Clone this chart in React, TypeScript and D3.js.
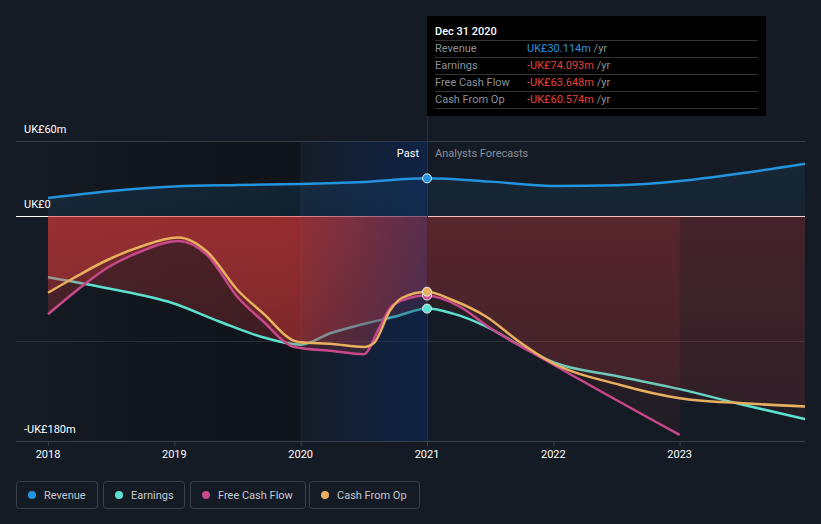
import React, { useEffect } from "react";
import * as d3 from "d3";

// ---------- data (values in UK£ millions, time in decimal years) ----------
const revenueT = [2018.0, 2018.5, 2019.0, 2019.5, 2020.0, 2020.5, 2021.0, 2021.5, 2022.0, 2022.5, 2023.0, 2023.5, 2024.0];
const revenueV = [14.4, 20, 23.6, 24.8, 25.6, 27.2, 30.114, 27.5, 24, 24.6, 28, 34.4, 42];

const earningsT = [2018.0, 2018.47, 2018.99, 2019.36, 2019.7, 2020.0, 2020.24, 2020.5, 2020.75, 2021.0, 2021.2, 2021.47, 2021.73, 2022.0, 2022.5, 2023.0, 2023.5, 2024.0];
const earningsV = [-49, -57.8, -69.8, -84.6, -97, -103, -93.6, -86.4, -80.4, -74.093, -77.9, -88.5, -103.2, -117, -128, -138.5, -151, -162.6];

const fcfT = [2018.0, 2018.2, 2018.47, 2018.73, 2019.03, 2019.26, 2019.5, 2019.7, 2019.95, 2020.25, 2020.5, 2020.62, 2020.73, 2021.0, 2021.25, 2021.5, 2021.95, 2023.0];
const fcfV = [-78.6, -61.8, -41.4, -28.6, -20, -31.2, -64.8, -84, -104.8, -108, -110.5, -90, -71, -63.648, -72, -89.6, -116, -175.2];

const cfoT = [2018.0, 2018.2, 2018.47, 2018.73, 2019.03, 2019.26, 2019.5, 2019.7, 2019.98, 2020.25, 2020.5, 2020.58, 2020.71, 2020.8, 2021.0, 2021.2, 2021.47, 2021.73, 2021.95, 2022.53, 2023.0, 2023.5, 2024.0];
const cfoV = [-61.4, -49.8, -35.2, -24.6, -17.2, -28.6, -59.2, -77.6, -100.8, -102.4, -104.8, -101.6, -75.2, -65.6, -60.574, -67.2, -80.6, -100.6, -115.2, -135.2, -145.8, -149.8, -152.4];

const yTickValues = [60, 0, -180];
const yTickLabels = ["UK£60m", "UK£0", "-UK£180m"];
const gridValues = [60, -100];
const xYears = [2018, 2019, 2020, 2021, 2022, 2023];

const seriesNames = ["Revenue", "Earnings", "Free Cash Flow", "Cash From Op"];
const seriesColors = ["#2394df", "#5ce0cf", "#c8488c", "#e9b060"];
const tooltipTitle = "Dec 31 2020";
const tooltipValues = ["UK£30.114m", "-UK£74.093m", "-UK£63.648m", "-UK£60.574m"];
const hoverYear = 2021.0;
const highlightStart = 2020.0;

const W = 821;
const H = 524;
const FONT = "Roboto, 'Noto Sans', sans-serif";

function zip(t: number[], v: number[]) {
  return t.map((tt, i) => ({ t: tt, v: v[i] }));
}

export default function App() {
  useEffect(() => {
    document.body.style.margin = "0";
    document.body.style.background = "#151b24";
  }, []);

  const x = d3.scaleLinear().domain([2018, 2024]).range([48, 806]);
  const y = d3.scaleLinear().domain([-180, 60]).range([441, 141]);
  const left = 16;
  const right = 805;
  const top = y(60);
  const bottom = y(-180);
  const xNow = x(hoverYear);
  const xHi = x(highlightStart);
  const y0 = y(0);

  const rev = zip(revenueT, revenueV);
  const earn = zip(earningsT, earningsV);
  const fcf = zip(fcfT, fcfV);
  const cfo = zip(cfoT, cfoV);

  const line = d3
    .line<{ t: number; v: number }>()
    .x((d) => x(d.t))
    .y((d) => y(d.v))
    .curve(d3.curveMonotoneX);
  const area = d3
    .area<{ t: number; v: number }>()
    .x((d) => x(d.t))
    .y0(y0)
    .y1((d) => y(d.v))
    .curve(d3.curveMonotoneX);

  const hoverVals = [
    { v: revenueV[revenueT.indexOf(hoverYear)], c: seriesColors[0] },
    { v: earningsV[earningsT.indexOf(hoverYear)], c: seriesColors[1] },
    { v: fcfV[fcfT.indexOf(hoverYear)], c: seriesColors[2] },
    { v: cfoV[cfoT.indexOf(hoverYear)], c: seriesColors[3] },
  ];

  const legendBoxes = [
    { x: 16, w: 81 },
    { x: 103, w: 81 },
    { x: 190, w: 115 },
    { x: 309, w: 110 },
  ];

  return (
    <svg
      width={W}
      height={H}
      style={{ position: "absolute", left: 0, top: 0, display: "block" }}
      fontFamily={FONT}
    >
      <defs>
        <linearGradient id="pastDark" x1="0" x2="1" y1="0" y2="0">
          <stop offset="0" stopColor="#000" stopOpacity="0.05" />
          <stop offset="1" stopColor="#000" stopOpacity="0.3" />
        </linearGradient>
        <linearGradient id="hiBlue" x1="0" x2="1" y1="0" y2="0">
          <stop offset="0" stopColor="#0a2d6e" stopOpacity="0.05" />
          <stop offset="1" stopColor="#0a2d6e" stopOpacity="0.45" />
        </linearGradient>
        <linearGradient id="redPast" gradientUnits="userSpaceOnUse" x1="0" x2="0" y1={y0} y2={bottom}>
          <stop offset="0" stopColor="#e63c3c" stopOpacity="0.28" />
          <stop offset="1" stopColor="#e63c3c" stopOpacity="0.16" />
        </linearGradient>
        <linearGradient id="redFc" gradientUnits="userSpaceOnUse" x1="0" x2="0" y1={y0} y2={bottom}>
          <stop offset="0" stopColor="#e63c3c" stopOpacity="0.12" />
          <stop offset="1" stopColor="#e63c3c" stopOpacity="0.06" />
        </linearGradient>
        <linearGradient id="bluePast" gradientUnits="userSpaceOnUse" x1="0" x2="0" y1={top} y2={y0}>
          <stop offset="0" stopColor="#2394df" stopOpacity="0.16" />
          <stop offset="1" stopColor="#2394df" stopOpacity="0.1" />
        </linearGradient>
        <linearGradient id="blueFc" gradientUnits="userSpaceOnUse" x1="0" x2="0" y1={top} y2={y0}>
          <stop offset="0" stopColor="#2394df" stopOpacity="0.11" />
          <stop offset="1" stopColor="#2394df" stopOpacity="0.07" />
        </linearGradient>
        <clipPath id="clipPast">
          <rect x={0} y={0} width={xNow} height={H} />
        </clipPath>
        <clipPath id="clipFc">
          <rect x={xNow} y={0} width={right - xNow} height={H} />
        </clipPath>
        <clipPath id="clipPlot">
          <rect x={0} y={0} width={right} height={H} />
        </clipPath>
      </defs>

      <rect x={0} y={0} width={W} height={H} fill="#151b24" />

      {/* past darkening */}
      <rect x={x(2018)} y={top} width={xHi - x(2018)} height={bottom - top} fill="url(#pastDark)" />

      {/* grid */}
      {gridValues.map((g) => (
        <line key={g} x1={left} x2={right} y1={y(g) + 0.5} y2={y(g) + 0.5} stroke={g === 60 ? "#363c46" : "#2a303a"} strokeWidth={1} />
      ))}
      <line x1={left} x2={right} y1={bottom + 0.5} y2={bottom + 0.5} stroke="#3a404a" strokeWidth={1} />
      {xYears.map((yr) => (
        <line key={yr} x1={x(yr) + 0.5} x2={x(yr) + 0.5} y1={bottom} y2={bottom + 5} stroke="#3a404a" />
      ))}
      <line x1={xHi + 0.5} x2={xHi + 0.5} y1={top} y2={bottom} stroke="#1c2433" strokeWidth={1} />

      {/* zero line */}
      <line x1={left} x2={right} y1={y0 + 0.5} y2={y0 + 0.5} stroke="#ffffff" strokeWidth={1} />

      <g clipPath="url(#clipPlot)">
        {/* revenue area */}
        <path d={area(rev) || ""} fill="url(#bluePast)" clipPath="url(#clipPast)" />
        <path d={area(rev) || ""} fill="url(#blueFc)" clipPath="url(#clipFc)" />

        {/* earnings area + line */}
        <path d={area(earn) || ""} fill="url(#redPast)" clipPath="url(#clipPast)" />
        <path d={area(earn) || ""} fill="url(#redFc)" clipPath="url(#clipFc)" />
        <path d={line(earn) || ""} fill="none" stroke={seriesColors[1]} strokeWidth={2.5} />

        {/* fcf + cfo areas */}
        {[fcf, cfo].map((s, i) => (
          <g key={i}>
            <path d={area(s) || ""} fill="url(#redPast)" clipPath="url(#clipPast)" />
            <path d={area(s) || ""} fill="url(#redFc)" clipPath="url(#clipFc)" />
          </g>
        ))}

        {/* highlight overlay */}
        <rect x={xHi} y={top} width={xNow - xHi} height={bottom - top} fill="url(#hiBlue)" />

        <path d={line(fcf) || ""} fill="none" stroke={seriesColors[2]} strokeWidth={2.5} />
        <path d={line(cfo) || ""} fill="none" stroke={seriesColors[3]} strokeWidth={2.5} />
        <path d={line(rev) || ""} fill="none" stroke={seriesColors[0]} strokeWidth={2.5} />
      </g>

      {/* hover line */}
      <line x1={xNow + 0.5} x2={xNow + 0.5} y1={16} y2={bottom} stroke="#22324e" strokeWidth={1} />

      {/* markers */}
      {hoverVals.map((h, i) => (
        <circle key={i} cx={xNow} cy={y(h.v)} r={4.5} fill={h.c} stroke="#e8ecf2" strokeWidth={1} />
      ))}

      {/* y labels */}
      {yTickValues.map((v, i) => (
        <text key={v} x={24} y={y(v) - 8} fill="#ffffff" fontSize={11}>
          {yTickLabels[i]}
        </text>
      ))}

      {/* x labels */}
      {xYears.map((yr) => (
        <text key={yr} x={x(yr)} y={458} fill="#ffffff" fontSize={11} textAnchor="middle">
          {yr}
        </text>
      ))}

      {/* past / forecast labels */}
      <text x={xNow - 8} y={157} fill="#ffffff" fontSize={11} textAnchor="end">
        Past
      </text>
      <text x={xNow + 8} y={157} fill="#8a8f98" fontSize={11}>
        Analysts Forecasts
      </text>

      {/* tooltip */}
      <g>
        <rect x={xNow} y={16} width={339} height={100} fill="#000000" />
        <text x={xNow + 8} y={35} fill="#ffffff" fontSize={11} fontWeight={500}>
          {tooltipTitle}
        </text>
        {[0, 1, 2, 3, 4].map((i) => (
          <line key={i} x1={xNow + 8} x2={758} y1={40.5 + i * 17} y2={40.5 + i * 17} stroke="#333" strokeWidth={1} />
        ))}
        {seriesNames.map((n, i) => (
          <g key={n}>
            <text x={xNow + 8} y={52 + i * 17} fill="#8c9099" fontSize={11}>
              {n}
            </text>
            <text x={527} y={52 + i * 17} fontSize={11}>
              <tspan fill={i === 0 ? "#2394df" : "#e8403c"}>{tooltipValues[i]}</tspan>
              <tspan fill="#8c9099"> /yr</tspan>
            </text>
          </g>
        ))}
      </g>

      {/* legend */}
      {seriesNames.map((n, i) => (
        <g key={n}>
          <rect x={legendBoxes[i].x + 0.5} y={481.5} width={legendBoxes[i].w} height={27} rx={3} fill="none" stroke="#3b414b" />
          <circle cx={legendBoxes[i].x + 16} cy={495} r={4} fill={seriesColors[i]} />
          <text x={legendBoxes[i].x + 28} y={499} fill="#c5c9d0" fontSize={11}>
            {n}
          </text>
        </g>
      ))}
    </svg>
  );
}
